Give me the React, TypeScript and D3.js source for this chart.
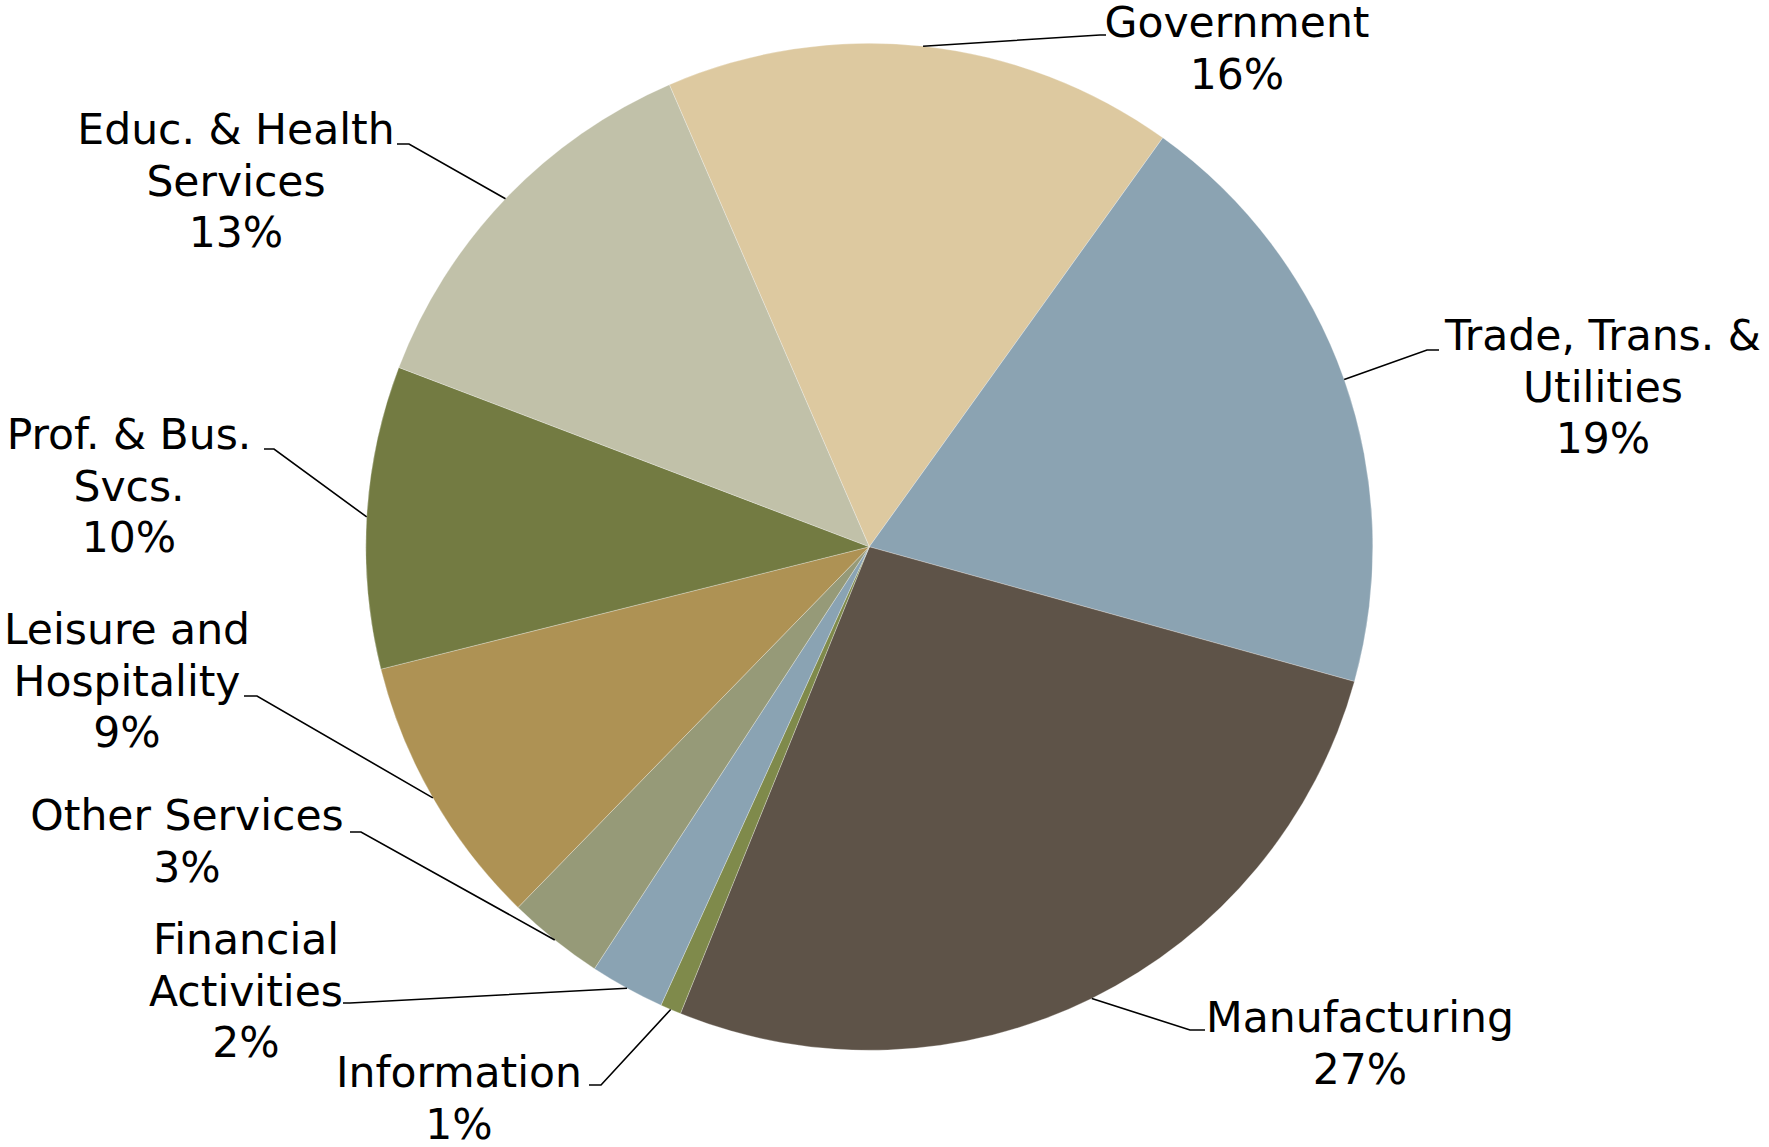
import React from "react";
import * as d3 from "d3";

const categories = [
  "Government",
  "Trade, Trans. & Utilities",
  "Manufacturing",
  "Information",
  "Financial Activities",
  "Other Services",
  "Leisure and Hospitality",
  "Prof. & Bus. Svcs.",
  "Educ. & Health Services",
];
const shares = [16.4, 19.4, 26.8, 0.67, 2.4, 3.1, 8.8, 9.7, 12.7];
const pctLabels = ["16%", "19%", "27%", "1%", "2%", "3%", "9%", "10%", "13%"];
const labelLines = [
  ["Government"],
  ["Trade, Trans. &", "Utilities"],
  ["Manufacturing"],
  ["Information"],
  ["Financial", "Activities"],
  ["Other Services"],
  ["Leisure and", "Hospitality"],
  ["Prof. & Bus.", "Svcs."],
  ["Educ. & Health", "Services"],
];
const colors = [
  "#DDC9A0",
  "#8BA3B2",
  "#5E5348",
  "#7F8A4B",
  "#8AA3B3",
  "#969A78",
  "#AE9254",
  "#737B42",
  "#C1C1A9",
];

// label layout: center x, first baseline y, elbow point, end point
const layout = [
  { cx: 1237, y: 37, elbow: [1100, 35], end: [1106, 35] },
  { cx: 1603, y: 350, elbow: [1427, 350], end: [1439, 350] },
  { cx: 1360, y: 1032, elbow: [1190, 1030], end: [1205, 1030] },
  { cx: 459, y: 1087, elbow: [601, 1085], end: [589, 1085] },
  { cx: 246, y: 954, elbow: [350, 1003], end: [343, 1003] },
  { cx: 187, y: 830, elbow: [361, 832], end: [350, 832] },
  { cx: 127, y: 644, elbow: [257, 696], end: [244, 696] },
  { cx: 129, y: 449, elbow: [274, 449], end: [264, 449] },
  { cx: 236, y: 144, elbow: [409, 144], end: [397, 144] },
];

const W = 1769;
const H = 1147;
const CX = 869.3;
const CY = 546.8;
const R = 503.5;
const START = (-23.4 * Math.PI) / 180;
const FONT = 42.5;
const LH = 51.6;

export default function App() {
  const pie = d3
    .pie<number>()
    .sort(null)
    .value((d) => d)
    .startAngle(START)
    .endAngle(START + 2 * Math.PI);
  const arcs = pie(shares);
  const arcGen = d3.arc<d3.PieArcDatum<number>>().innerRadius(0).outerRadius(R);

  return (
    <svg
      width={W}
      height={H}
      style={{ position: "absolute", left: 0, top: 0, background: "#fff" }}
      fontFamily="'DejaVu Sans', Verdana, sans-serif"
    >
      <rect x={0} y={0} width={W} height={H} fill="#fff" />
      <g transform={`translate(${CX},${CY})`}>
        {arcs.map((a, i) => (
          <path
            key={categories[i]}
            d={arcGen(a) || ""}
            fill={colors[i]}
            stroke="#ffffff"
            strokeOpacity={0.35}
            strokeWidth={0.8}
          />
        ))}
      </g>
      {arcs.map((a, i) => {
        const mid = (a.startAngle + a.endAngle) / 2;
        const sx = CX + R * Math.sin(mid);
        const sy = CY - R * Math.cos(mid);
        const L = layout[i];
        const pts = [[sx, sy], L.elbow, L.end];
        const line = d3.line()(pts as [number, number][]) || "";
        return (
          <path key={"l" + i} d={line} fill="none" stroke="#000" strokeWidth={1.6} />
        );
      })}
      {arcs.map((a, i) => {
        const L = layout[i];
        const lines = [...labelLines[i], pctLabels[i]];
        return (
          <text
            key={"t" + i}
            x={L.cx}
            y={L.y}
            textAnchor="middle"
            fontSize={FONT}
            fill="#000"
          >
            {lines.map((s, j) => (
              <tspan key={j} x={L.cx} y={L.y + j * LH}>
                {s}
              </tspan>
            ))}
          </text>
        );
      })}
    </svg>
  );
}
